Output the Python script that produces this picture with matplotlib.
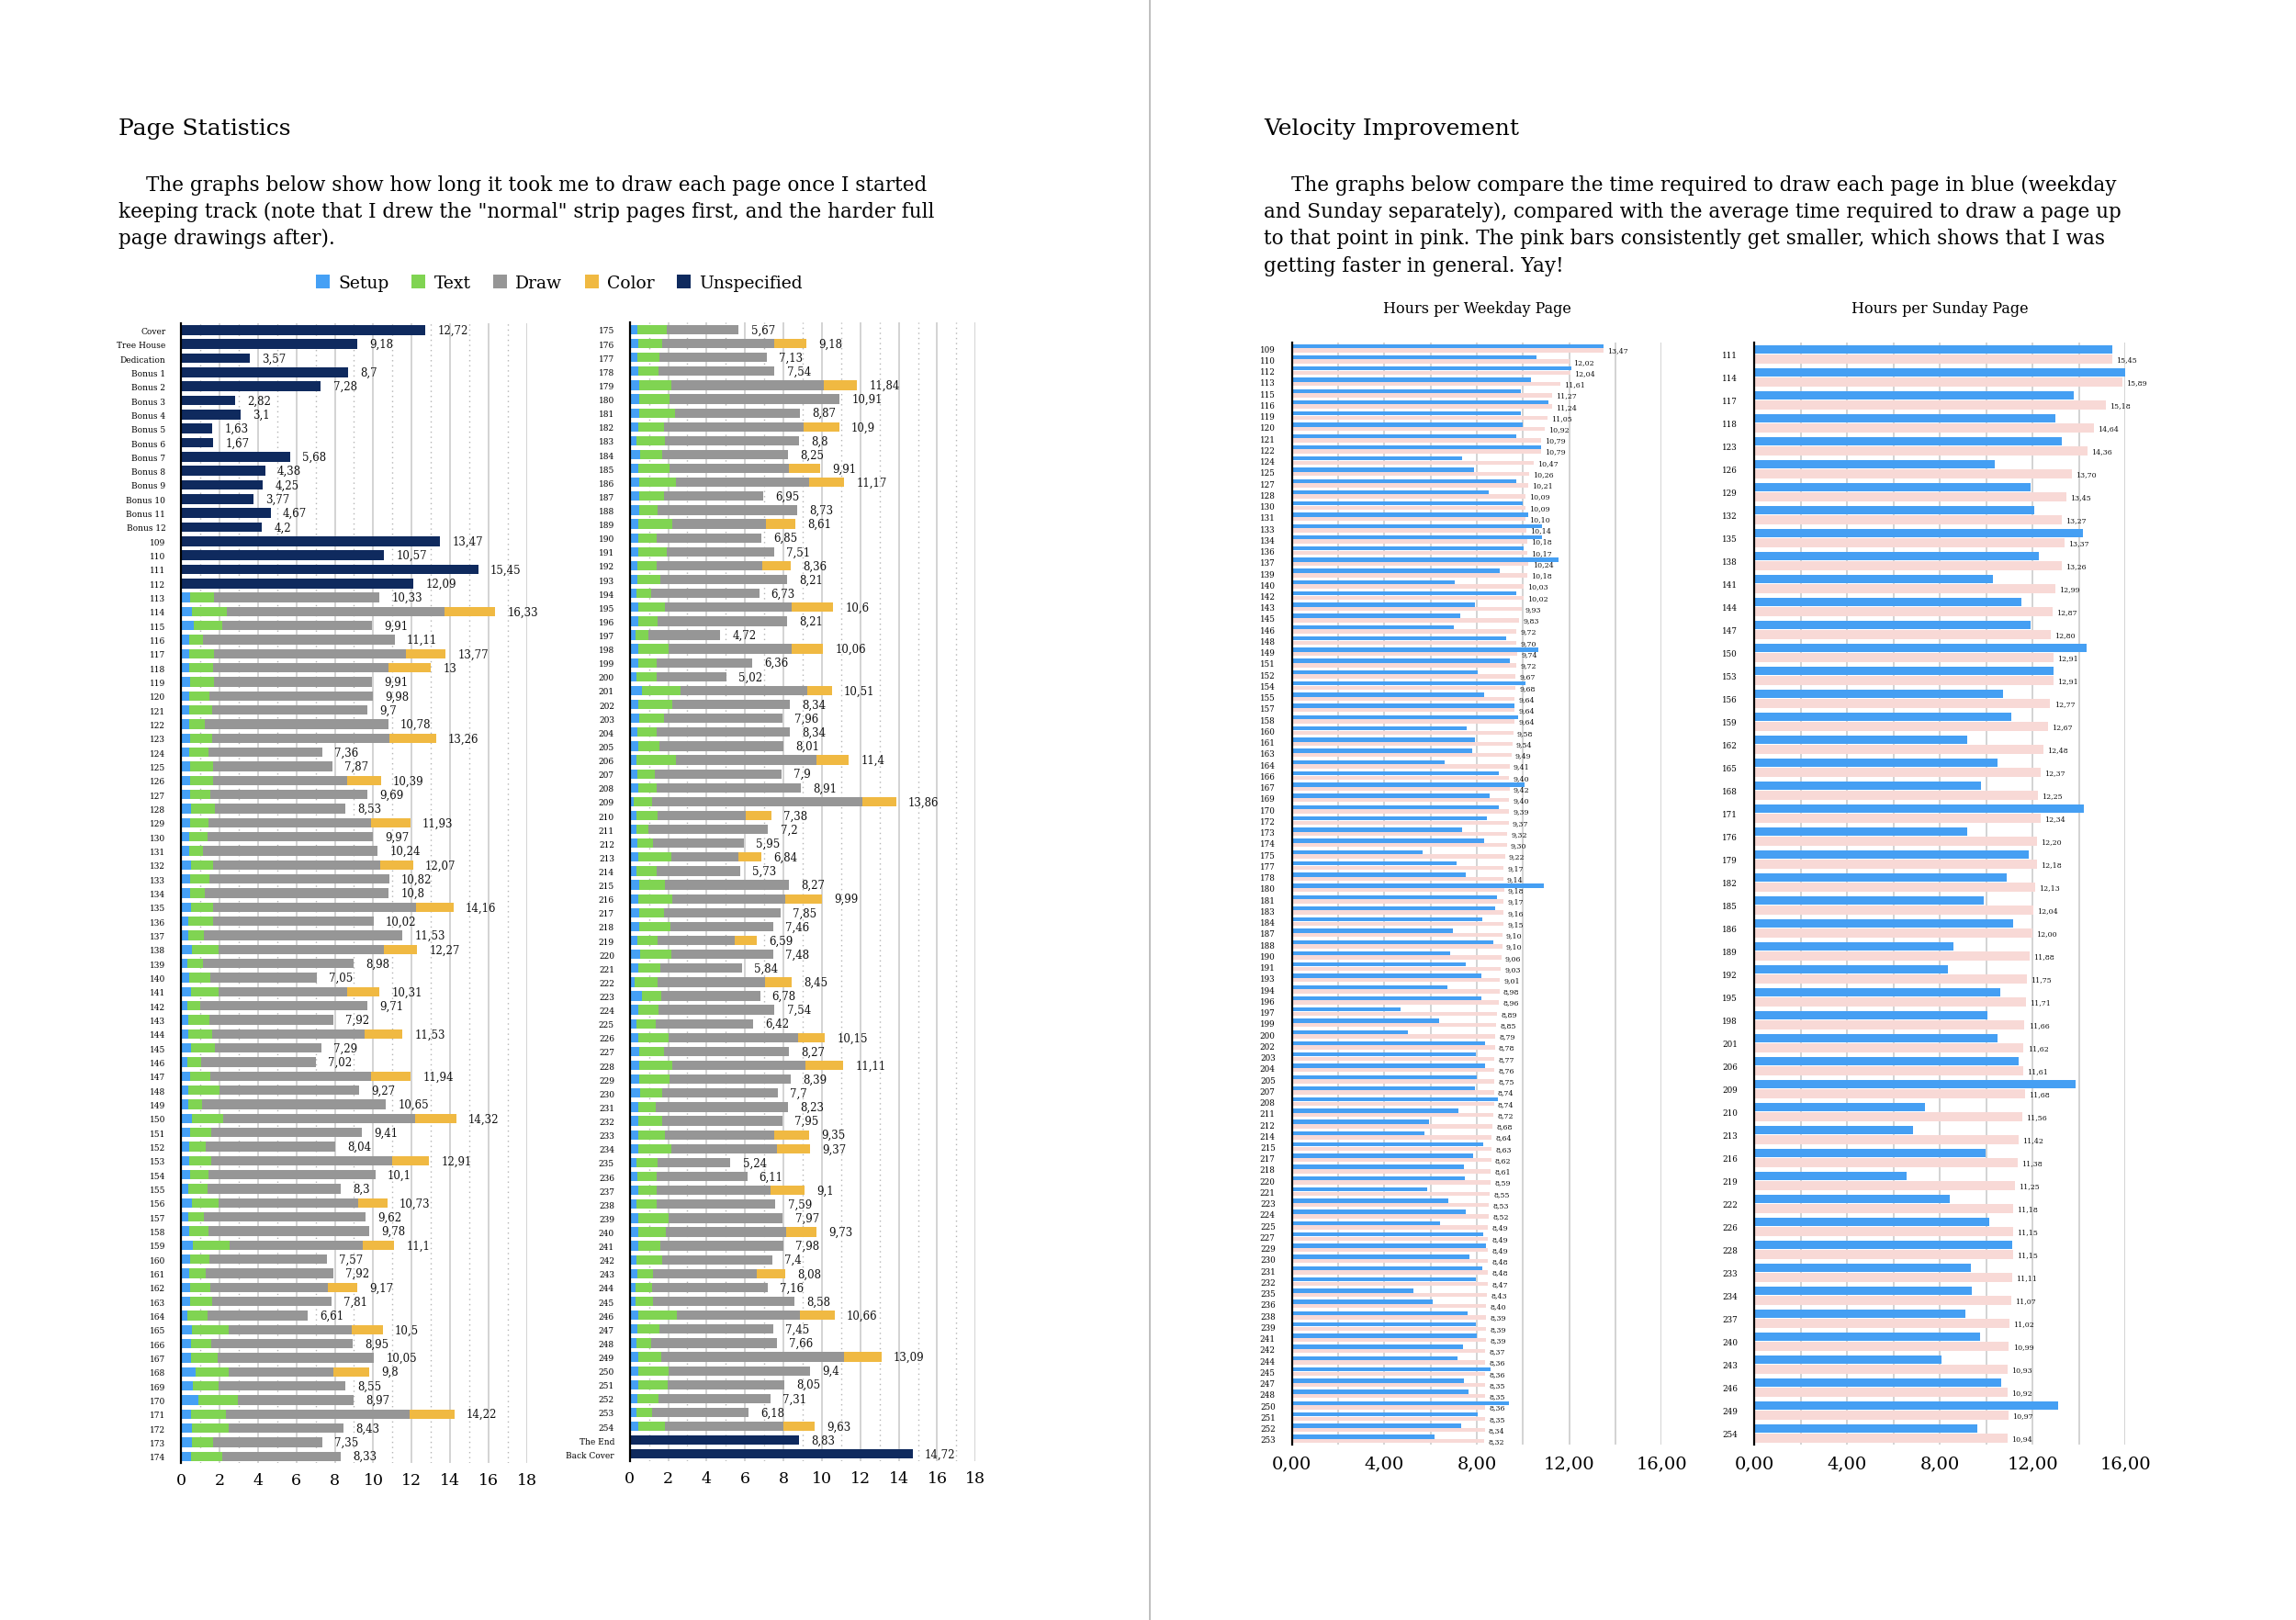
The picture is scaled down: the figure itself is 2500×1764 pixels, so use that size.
import matplotlib
matplotlib.use('Agg')
import matplotlib.pyplot as plt
from matplotlib.lines import Line2D
from matplotlib.patches import Patch
from matplotlib.ticker import FuncFormatter
import numpy as np

plt.rcParams['font.family'] = ['DejaVu Serif', 'DejaVu Sans']

# ---------------- DATA ----------------
# Pages with only an "Unspecified" total
front_pages = ["Cover", "Tree House", "Dedication", "Bonus 1", "Bonus 2", "Bonus 3", "Bonus 4",
               "Bonus 5", "Bonus 6", "Bonus 7", "Bonus 8", "Bonus 9", "Bonus 10", "Bonus 11",
               "Bonus 12", "109", "110", "111", "112"]
front_hours = [12.72, 9.18, 3.57, 8.7, 7.28, 2.82, 3.1, 1.63, 1.67, 5.68, 4.38, 4.25, 3.77,
               4.67, 4.2, 13.47, 10.57, 15.45, 12.09]
back_pages = ["The End", "Back Cover"]
back_hours = [8.83, 14.72]

# Tracked pages 113 .. 254
tracked_pages = [str(p) for p in range(113, 255)]
setup_hours = [
    .48, .57, .65, .44, .41, .44, .48, .44, .44, .44,
    .48, .44, .48, .48, .48, .54, .48, .44, .44, .54,
    .48, .48, .54, .40, .37, .57, .32, .44, .54, .32,
    .37, .37, .54, .32, .48, .40, .40, .57, .48, .44,
    .44, .48, .37, .57, .40, .44, .60, .48, .44, .48,
    .48, .32, .57, .54, .54, .75, .60, .90, .54, .57,
    .57, .54,
    .40, .46, .40, .46, .49, .49, .49, .46, .37, .56,
    .46, .49, .49, .49, .46, .46, .46, .40, .40, .37,
    .46, .46, .29, .46, .46, .37, .62, .46, .49, .40,
    .46, .37, .40, .46, .21, .37, .37, .40, .46, .37,
    .49, .46, .49, .49, .40, .56, .46, .26, .62, .46,
    .37, .46, .49, .49, .49, .54, .46, .46, .46, .46,
    .37, .40, .46, .37, .46, .46, .46, .37, .40, .32,
    .32, .46, .40, .37, .46, .46, .46, .40, .37, .46]
text_hours = [
    1.23, 1.81, 1.48, .72, 1.30, 1.23, 1.23, 1.02, 1.19, .80,
    1.14, .97, 1.19, 1.19, 1.03, 1.25, .93, .93, .69, 1.13,
    .98, .76, 1.13, 1.27, .84, 1.38, .84, 1.07, 1.41, .66,
    1.09, 1.25, 1.21, .71, 1.03, 1.60, .68, 1.64, 1.11, .85,
    1.15, .93, 1.00, 1.38, .81, .97, 1.94, .98, .85, 1.06,
    1.14, 1.05, 1.89, 1.05, 1.38, 1.71, 1.35, 2.04, 1.79, 1.89,
    1.10, 1.59,
    1.55, 1.21, 1.15, 1.04, 1.66, 1.57, 1.87, 1.31, 1.46, 1.11,
    1.60, 1.90, 1.31, .96, 1.76, .96, 1.49, 1.02, 1.19, .75,
    1.37, .99, .67, 1.55, .93, 1.02, 2.01, 1.76, 1.31, .99,
    1.09, 2.04, .89, .93, .95, 1.10, .59, .81, 1.72, 1.02,
    1.34, 1.76, 1.31, 1.62, 1.07, 1.59, 1.13, 1.21, 1.02, 1.04,
    .97, 1.55, 1.28, 1.73, 1.57, 1.13, .88, 1.21, 1.37, 1.69,
    1.10, 1.02, .96, 1.05, 1.55, 1.42, 1.13, 1.30, .81, .84,
    .89, 1.98, 1.15, .75, 1.18, 1.55, 1.52, 1.10, .79, 1.37]
draw_hours = [
    8.62, 11.32, 7.78, 9.95, 10.00, 9.12, 8.20, 8.52, 8.07, 9.54,
    9.22, 5.95, 6.20, 6.98, 8.18, 6.74, 8.46, 8.60, 9.11, 8.71,
    9.36, 9.56, 10.55, 8.35, 10.32, 8.61, 7.82, 5.54, 6.70, 8.73,
    6.46, 7.95, 5.54, 5.99, 8.36, 7.27, 9.57, 9.98, 7.82, 6.75,
    9.41, 8.69, 6.93, 7.26, 8.41, 8.37, 6.92, 6.11, 6.63, 6.11,
    6.19, 5.24, 6.43, 7.36, 8.13, 5.48, 6.60, 6.03, 9.57, 5.97,
    5.68, 6.20,
    3.72, 5.84, 5.58, 6.04, 7.95, 8.85, 6.51, 7.30, 6.97, 6.58,
    6.22, 6.96, 5.15, 7.28, 4.88, 5.43, 5.56, 5.49, 6.62, 5.61,
    6.58, 6.76, 3.76, 6.40, 4.97, 3.63, 6.60, 6.12, 6.16, 6.95,
    6.46, 7.30, 6.61, 7.52, 10.96, 4.56, 6.24, 4.74, 3.48, 4.34,
    6.44, 5.88, 6.05, 5.35, 3.97, 5.33, 4.25, 5.58, 5.14, 6.04,
    5.08, 6.76, 6.50, 6.93, 6.33, 6.03, 6.89, 6.28, 5.68, 5.52,
    3.77, 4.69, 5.92, 6.17, 5.96, 6.27, 6.39, 5.73, 5.41, 6.00,
    7.37, 6.43, 5.90, 6.54, 9.52, 7.39, 6.07, 5.81, 5.02, 6.19]
color_hours = [
    0, 2.63, 0, 0, 2.06, 2.21, 0, 0, 0, 0,
    2.42, 0, 0, 1.74, 0, 0, 2.06, 0, 0, 1.69,
    0, 0, 1.94, 0, 0, 1.71, 0, 0, 1.66, 0,
    0, 1.96, 0, 0, 2.07, 0, 0, 2.13, 0, 0,
    1.91, 0, 0, 1.52, 0, 0, 1.64, 0, 0, 1.52,
    0, 0, 1.61, 0, 0, 1.86, 0, 0, 2.32, 0,
    0, 0,
    0, 1.67, 0, 0, 1.74, 0, 0, 1.83, 0, 0,
    1.63, 1.82, 0, 0, 1.51, 0, 0, 1.45, 0, 0,
    2.19, 0, 0, 1.65, 0, 0, 1.28, 0, 0, 0,
    0, 1.69, 0, 0, 1.74, 1.35, 0, 0, 1.18, 0,
    0, 1.89, 0, 0, 1.15, 0, 0, 1.40, 0, 0,
    0, 1.38, 0, 1.96, 0, 0, 0, 0, 1.84, 1.70,
    0, 0, 1.76, 0, 0, 1.58, 0, 0, 1.46, 0,
    0, 1.79, 0, 0, 1.93, 0, 0, 0, 0, 1.61]
total_hours = [
    10.33, 16.33, 9.91, 11.11, 13.77, 13, 9.91, 9.98, 9.7, 10.78,
    13.26, 7.36, 7.87, 10.39, 9.69, 8.53, 11.93, 9.97, 10.24, 12.07,
    10.82, 10.8, 14.16, 10.02, 11.53, 12.27, 8.98, 7.05, 10.31, 9.71,
    7.92, 11.53, 7.29, 7.02, 11.94, 9.27, 10.65, 14.32, 9.41, 8.04,
    12.91, 10.1, 8.3, 10.73, 9.62, 9.78, 11.1, 7.57, 7.92, 9.17,
    7.81, 6.61, 10.5, 8.95, 10.05, 9.8, 8.55, 8.97, 14.22, 8.43,
    7.35, 8.33,
    5.67, 9.18, 7.13, 7.54, 11.84, 10.91, 8.87, 10.9, 8.8, 8.25,
    9.91, 11.17, 6.95, 8.73, 8.61, 6.85, 7.51, 8.36, 8.21, 6.73,
    10.6, 8.21, 4.72, 10.06, 6.36, 5.02, 10.51, 8.34, 7.96, 8.34,
    8.01, 11.4, 7.9, 8.91, 13.86, 7.38, 7.2, 5.95, 6.84, 5.73,
    8.27, 9.99, 7.85, 7.46, 6.59, 7.48, 5.84, 8.45, 6.78, 7.54,
    6.42, 10.15, 8.27, 11.11, 8.39, 7.7, 8.23, 7.95, 9.35, 9.37,
    5.24, 6.11, 9.1, 7.59, 7.97, 9.73, 7.98, 7.4, 8.08, 7.16,
    8.58, 10.66, 7.45, 7.66, 13.09, 9.4, 8.05, 7.31, 6.18, 9.63]

# Velocity: weekday pages
weekday_pages = [109, 110, 112, 113, 115, 116, 119, 120, 121, 122,
                 124, 125, 127, 128, 130, 131, 133, 134, 136, 137,
                 139, 140, 142, 143, 145, 146, 148, 149, 151, 152,
                 154, 155, 157, 158, 160, 161, 163, 164, 166, 167,
                 169, 170, 172, 173, 174, 175, 177, 178, 180, 181,
                 183, 184, 187, 188, 190, 191, 193, 194, 196, 197,
                 199, 200, 202, 203, 204, 205, 207, 208, 211, 212,
                 214, 215, 217, 218, 220, 221, 223, 224, 225, 227,
                 229, 230, 231, 232, 235, 236, 238, 239, 241, 242,
                 244, 245, 247, 248, 250, 251, 252, 253]
weekday_hours = [13.47, 10.57, 12.09, 10.33, 9.91, 11.11, 9.91, 9.98, 9.7, 10.78,
                 7.36, 7.87, 9.69, 8.53, 9.97, 10.24, 10.82, 10.8, 10.02, 11.53,
                 8.98, 7.05, 9.71, 7.92, 7.29, 7.02, 9.27, 10.65, 9.41, 8.04,
                 10.1, 8.3, 9.62, 9.78, 7.57, 7.92, 7.81, 6.61, 8.95, 10.05,
                 8.55, 8.97, 8.43, 7.35, 8.33, 5.67, 7.13, 7.54, 10.91, 8.87,
                 8.8, 8.25, 6.95, 8.73, 6.85, 7.51, 8.21, 6.73, 8.21, 4.72,
                 6.36, 5.02, 8.34, 7.96, 8.34, 8.01, 7.9, 8.91, 7.2, 5.95,
                 5.73, 8.27, 7.85, 7.46, 7.48, 5.84, 6.78, 7.54, 6.42, 8.27,
                 8.39, 7.7, 8.23, 7.95, 5.24, 6.11, 7.59, 7.97, 7.98, 7.4,
                 7.16, 8.58, 7.45, 7.66, 9.4, 8.05, 7.31, 6.18]
weekday_avg = [13.47, 12.02, 12.04, 11.61, 11.27, 11.24, 11.05, 10.92, 10.79, 10.79,
               10.47, 10.26, 10.21, 10.09, 10.09, 10.10, 10.14, 10.18, 10.17, 10.24,
               10.18, 10.03, 10.02, 9.93, 9.83, 9.72, 9.70, 9.74, 9.72, 9.67,
               9.68, 9.64, 9.64, 9.64, 9.58, 9.54, 9.49, 9.41, 9.40, 9.42,
               9.40, 9.39, 9.37, 9.32, 9.30, 9.22, 9.17, 9.14, 9.18, 9.17,
               9.16, 9.15, 9.10, 9.10, 9.06, 9.03, 9.01, 8.98, 8.96, 8.89,
               8.85, 8.79, 8.78, 8.77, 8.76, 8.75, 8.74, 8.74, 8.72, 8.68,
               8.64, 8.63, 8.62, 8.61, 8.59, 8.55, 8.53, 8.52, 8.49, 8.49,
               8.49, 8.48, 8.48, 8.47, 8.43, 8.40, 8.39, 8.39, 8.39, 8.37,
               8.36, 8.36, 8.35, 8.35, 8.36, 8.35, 8.34, 8.32]

# Velocity: Sunday pages
sunday_pages = [111, 114, 117, 118, 123, 126, 129, 132, 135, 138, 141, 144, 147, 150, 153, 156,
                159, 162, 165, 168, 171, 176, 179, 182, 185, 186, 189, 192, 195, 198, 201, 206,
                209, 210, 213, 216, 219, 222, 226, 228, 233, 234, 237, 240, 243, 246, 249, 254]
sunday_hours = [15.45, 16.33, 13.77, 13, 13.26, 10.39, 11.93, 12.07, 14.16, 12.27, 10.31, 11.53,
                11.94, 14.32, 12.91, 10.73, 11.1, 9.17, 10.5, 9.8, 14.22, 9.18, 11.84, 10.9,
                9.91, 11.17, 8.61, 8.36, 10.6, 10.06, 10.51, 11.4, 13.86, 7.38, 6.84, 9.99,
                6.59, 8.45, 10.15, 11.11, 9.35, 9.37, 9.1, 9.73, 8.08, 10.66, 13.09, 9.63]
sunday_avg = [15.45, 15.89, 15.18, 14.64, 14.36, 13.70, 13.45, 13.27, 13.37, 13.26, 12.99, 12.87,
              12.80, 12.91, 12.91, 12.77, 12.67, 12.48, 12.37, 12.25, 12.34, 12.20, 12.18, 12.13,
              12.04, 12.00, 11.88, 11.75, 11.71, 11.66, 11.62, 11.61, 11.68, 11.56, 11.42, 11.38,
              11.25, 11.18, 11.15, 11.15, 11.11, 11.07, 11.02, 10.99, 10.93, 10.92, 10.97, 10.94]

legend_labels = ["Setup", "Text", "Draw", "Color", "Unspecified"]

# ---------------- STYLE ----------------
C_SETUP = '#45a0f5'
C_TEXT = '#80d452'
C_DRAW = '#969696'
C_COLOR = '#f0b942'
C_UNSPEC = '#0f2a5e'
C_BLUE = '#459ff3'
C_PINK = '#f8d9d6'
GRID = '#c8c8c8'

W, H = 2500, 1765
fig = plt.figure(figsize=(W / 100, H / 100), dpi=100)
fig.patch.set_facecolor('white')


def px_axes(left, top, right, bottom):
    return fig.add_axes([left / W, 1 - bottom / H, (right - left) / W, (bottom - top) / H])


def fmt_total(v):
    return f"{v:g}".replace('.', ',')


def fmt2(v):
    return f"{v:.2f}".replace('.', ',')


def stacked_panel(ax, labels, setup, text, draw, color, unspec, totals):
    n = len(labels)
    y = np.arange(n)
    left = np.zeros(n)
    for vals, c in [(setup, C_SETUP), (text, C_TEXT), (draw, C_DRAW),
                    (color, C_COLOR), (unspec, C_UNSPEC)]:
        vals = np.asarray(vals, float)
        ax.barh(y, vals, left=left, height=0.68, color=c, edgecolor='none', zorder=2)
        left = left + vals
    for yi, t in zip(y, totals):
        ax.annotate(fmt_total(t), xy=(t, yi), xytext=(9.5, 0), textcoords='offset points',
                    va='center', ha='left', fontsize=8.5, color='#111111')
    ax.set_xlim(0, 18)
    ax.set_ylim(n - 0.5, -0.5)
    ax.set_yticks(y)
    ax.set_yticklabels(labels)
    ax.set_xticks(range(0, 19, 2))
    ax.set_xticks(range(1, 18, 2), minor=True)
    ax.grid(True, axis='x', which='major', color=GRID, lw=1.1, zorder=0)
    ax.grid(True, axis='x', which='minor', color='#b5b5b5', lw=1.0, linestyle=(0, (1, 3)), zorder=0)
    ax.grid(False, axis='y')
    ax.set_axisbelow(True)
    for s in ['top', 'right', 'bottom']:
        ax.spines[s].set_visible(False)
    ax.spines['left'].set_linewidth(1.6)
    ax.spines['left'].set_color('black')
    ax.tick_params(axis='both', which='both', length=0)
    ax.tick_params(axis='x', labelsize=12.5, pad=7)
    ax.tick_params(axis='y', labelsize=6.5, pad=12)


n_front = len(front_pages)
split = 62  # pages 113..174 in first panel

# Panel 1
lab1 = front_pages + tracked_pages[:split]
zf = [0] * n_front
s1 = zf + setup_hours[:split]
t1 = zf + text_hours[:split]
d1 = zf + draw_hours[:split]
c1 = zf + color_hours[:split]
u1 = front_hours + [0] * split
tot1 = front_hours + total_hours[:split]
ax1 = px_axes(197, 352.7, 574, 1594.4)
stacked_panel(ax1, lab1, s1, t1, d1, c1, u1, tot1)

# Panel 2
nb = len(back_pages)
lab2 = tracked_pages[split:] + back_pages
zb = [0] * nb
s2 = setup_hours[split:] + zb
t2 = text_hours[split:] + zb
d2 = draw_hours[split:] + zb
c2 = color_hours[split:] + zb
u2 = [0] * (len(tracked_pages) - split) + back_hours
tot2 = total_hours[split:] + back_hours
ax2 = px_axes(685.7, 352.4, 1062.3, 1591.9)
stacked_panel(ax2, lab2, s2, t2, d2, c2, u2, tot2)


def velocity_panel(ax, pages, hours, avg, off, h, title, lab_fs):
    n = len(pages)
    y = np.arange(n)
    ax.barh(y - off, hours, height=h, color=C_BLUE, edgecolor='none', zorder=2)
    ax.barh(y + off, avg, height=h, color=C_PINK, edgecolor='none', zorder=2)
    for yi, a in zip(y, avg):
        ax.annotate(fmt2(a), xy=(a, yi + off), xytext=(3, 0), textcoords='offset points',
                    va='center', ha='left', fontsize=lab_fs, color='#111111', zorder=3)
    ax.set_xlim(0, 16)
    ax.set_ylim(n - 0.5, -0.5)
    ax.set_yticks(y)
    ax.set_yticklabels([str(p) for p in pages])
    ax.set_xticks([0, 4, 8, 12, 16])
    ax.set_xticks([2, 6, 10, 14], minor=True)
    ax.xaxis.set_major_formatter(FuncFormatter(lambda v, p: fmt2(v)))
    ax.grid(True, axis='x', which='both', color=GRID, lw=1.1, zorder=0)
    ax.set_axisbelow(True)
    for s in ['top', 'right', 'bottom']:
        ax.spines[s].set_visible(False)
    ax.spines['left'].set_linewidth(1.6)
    ax.spines['left'].set_color('black')
    ax.tick_params(axis='both', which='both', length=0)
    ax.tick_params(axis='x', labelsize=14, pad=8)
    ax.tick_params(axis='y', labelsize=6.3, pad=13)
    ax.set_title(title, fontsize=11.5, pad=24)


ax3 = px_axes(1406.7, 374, 1809.4, 1574)
velocity_panel(ax3, weekday_pages, weekday_hours, weekday_avg, 0.19, 0.36,
               "Hours per Weekday Page", 5.7)
ax4 = px_axes(1910, 374, 2314, 1574)
velocity_panel(ax4, sunday_pages, sunday_hours, sunday_avg, 0.21, 0.38,
               "Hours per Sunday Page", 5.7)

# ---------------- TEXT ----------------
fig.text(129 / W, 1 - 140 / H, "Page Statistics", fontsize=18, va='center', ha='left')
left_par = ["The graphs below show how long it took me to draw each page once I started",
            "keeping track (note that I drew the \"normal\" strip pages first, and the harder full",
            "page drawings after)."]
ys = [202, 231, 260, 290]
for i, line in enumerate(left_par):
    fig.text((159 if i == 0 else 129) / W, 1 - ys[i] / H, line, fontsize=15.5, va='center', ha='left')

fig.text(1376 / W, 1 - 140 / H, "Velocity Improvement", fontsize=18, va='center', ha='left')
right_par = ["The graphs below compare the time required to draw each page in blue (weekday",
             "and Sunday separately), compared with the average time required to draw a page up",
             "to that point in pink. The pink bars consistently get smaller, which shows that I was",
             "getting faster in general. Yay!"]
for i, line in enumerate(right_par):
    fig.text((1406 if i == 0 else 1376) / W, 1 - ys[i] / H, line, fontsize=15.5, va='center', ha='left')

handles = [Patch(facecolor=c, edgecolor='none', label=l)
           for c, l in zip([C_SETUP, C_TEXT, C_DRAW, C_COLOR, C_UNSPEC], legend_labels)]
fig.legend(handles=handles, loc='center', bbox_to_anchor=(609 / W, 1 - 309 / H), ncol=5,
           frameon=False, fontsize=13.5, handlelength=0.8, handleheight=0.8,
           handletextpad=0.5, columnspacing=1.3)

# page divider
fig.add_artist(Line2D([1252 / W, 1252 / W], [0, 1], transform=fig.transFigure,
                      color='#b4b4b4', lw=1.2))

fig.savefig('out.png', dpi=100)
